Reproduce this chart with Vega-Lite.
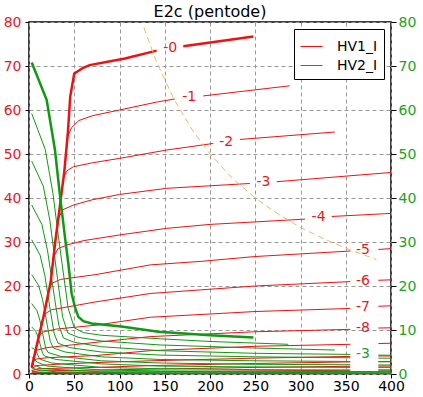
{
"$schema":"https://vega.github.io/schema/vega-lite/v6.json",
"width":362,"height":352,
"autosize":{"type":"none"},
"padding":{"left":29,"top":22,"right":32,"bottom":23},
"title":{"text":"E2c (pentode)","fontSize":16,"fontWeight":"normal","font":"DejaVu Sans","color":"black","offset":-5},
"config":{"font":"DejaVu Sans","view":{"stroke":"black","strokeWidth":1.5},
"axis":{"labelFont":"DejaVu Sans","labelFontSize":14,"title":null,"domain":false,"tickColor":"black","gridColor":"#999999","gridDash":[4,3],"gridOpacity":1,"gridWidth":1}},
"datasets":{
"curves":[
{"s":"HV1_I","g":0,"k":0,"v":3,"i":1.5},{"s":"HV1_I","g":0,"k":0,"v":8,"i":6},{"s":"HV1_I","g":0,"k":0,"v":16,"i":13},{"s":"HV1_I","g":0,"k":0,"v":24,"i":21},{"s":"HV1_I","g":0,"k":0,"v":29,"i":30},{"s":"HV1_I","g":0,"k":0,"v":34,"i":38},{"s":"HV1_I","g":0,"k":0,"v":39,"i":46},{"s":"HV1_I","g":0,"k":0,"v":43,"i":55},{"s":"HV1_I","g":0,"k":0,"v":45.5,"i":63},{"s":"HV1_I","g":0,"k":0,"v":50,"i":68.3},{"s":"HV1_I","g":0,"k":0,"v":60,"i":69.6},{"s":"HV1_I","g":0,"k":0,"v":67,"i":70.2},{"s":"HV1_I","g":0,"k":0,"v":106,"i":71.7},{"s":"HV1_I","g":0,"k":0,"v":141,"i":73.5},
{"s":"HV1_I","g":0,"k":1,"v":170.5,"i":74.5},{"s":"HV1_I","g":0,"k":1,"v":248,"i":76.7},
{"s":"HV1_I","g":-1,"k":0,"v":3,"i":1.5},{"s":"HV1_I","g":-1,"k":0,"v":8,"i":6},{"s":"HV1_I","g":-1,"k":0,"v":16,"i":13},{"s":"HV1_I","g":-1,"k":0,"v":24,"i":21},{"s":"HV1_I","g":-1,"k":0,"v":29,"i":30},{"s":"HV1_I","g":-1,"k":0,"v":34,"i":38},{"s":"HV1_I","g":-1,"k":0,"v":39,"i":46},{"s":"HV1_I","g":-1,"k":0,"v":43,"i":54},{"s":"HV1_I","g":-1,"k":0,"v":47,"i":56},{"s":"HV1_I","g":-1,"k":0,"v":55,"i":57.6},{"s":"HV1_I","g":-1,"k":0,"v":70,"i":58.7},{"s":"HV1_I","g":-1,"k":0,"v":100,"i":60},{"s":"HV1_I","g":-1,"k":0,"v":141,"i":61.8},{"s":"HV1_I","g":-1,"k":0,"v":161,"i":62.5},
{"s":"HV1_I","g":-1,"k":1,"v":192.6,"i":63.2},{"s":"HV1_I","g":-1,"k":1,"v":288,"i":65.5},
{"s":"HV1_I","g":-2,"k":0,"v":3,"i":1.5},{"s":"HV1_I","g":-2,"k":0,"v":8,"i":6},{"s":"HV1_I","g":-2,"k":0,"v":16,"i":13},{"s":"HV1_I","g":-2,"k":0,"v":24,"i":21},{"s":"HV1_I","g":-2,"k":0,"v":29,"i":30},{"s":"HV1_I","g":-2,"k":0,"v":34,"i":38},{"s":"HV1_I","g":-2,"k":0,"v":38,"i":44.5},{"s":"HV1_I","g":-2,"k":0,"v":42,"i":46.2},{"s":"HV1_I","g":-2,"k":0,"v":49,"i":47.1},{"s":"HV1_I","g":-2,"k":0,"v":70,"i":48},{"s":"HV1_I","g":-2,"k":0,"v":100,"i":49},{"s":"HV1_I","g":-2,"k":0,"v":152,"i":50.9},{"s":"HV1_I","g":-2,"k":0,"v":203.7,"i":52.4},
{"s":"HV1_I","g":-2,"k":1,"v":233,"i":53.3},{"s":"HV1_I","g":-2,"k":1,"v":338,"i":55},
{"s":"HV1_I","g":-3,"k":0,"v":3,"i":1.5},{"s":"HV1_I","g":-3,"k":0,"v":8,"i":6},{"s":"HV1_I","g":-3,"k":0,"v":16,"i":13},{"s":"HV1_I","g":-3,"k":0,"v":24,"i":21},{"s":"HV1_I","g":-3,"k":0,"v":29,"i":30},{"s":"HV1_I","g":-3,"k":0,"v":33,"i":35.5},{"s":"HV1_I","g":-3,"k":0,"v":37,"i":37.3},{"s":"HV1_I","g":-3,"k":0,"v":49,"i":38.4},{"s":"HV1_I","g":-3,"k":0,"v":70,"i":39.6},{"s":"HV1_I","g":-3,"k":0,"v":100,"i":40.8},{"s":"HV1_I","g":-3,"k":0,"v":152,"i":42.2},{"s":"HV1_I","g":-3,"k":0,"v":244,"i":43.3},
{"s":"HV1_I","g":-3,"k":1,"v":273.7,"i":43.7},{"s":"HV1_I","g":-3,"k":1,"v":400,"i":45.8},
{"s":"HV1_I","g":-4,"k":0,"v":3,"i":1.5},{"s":"HV1_I","g":-4,"k":0,"v":8,"i":6},{"s":"HV1_I","g":-4,"k":0,"v":16,"i":13},{"s":"HV1_I","g":-4,"k":0,"v":24,"i":21},{"s":"HV1_I","g":-4,"k":0,"v":27,"i":26.5},{"s":"HV1_I","g":-4,"k":0,"v":32,"i":28.5},{"s":"HV1_I","g":-4,"k":0,"v":41.6,"i":29.3},{"s":"HV1_I","g":-4,"k":0,"v":60,"i":30.3},{"s":"HV1_I","g":-4,"k":0,"v":100,"i":31.6},{"s":"HV1_I","g":-4,"k":0,"v":152,"i":33.1},{"s":"HV1_I","g":-4,"k":0,"v":200,"i":34},{"s":"HV1_I","g":-4,"k":0,"v":305,"i":35.2},
{"s":"HV1_I","g":-4,"k":1,"v":334.5,"i":35.8},{"s":"HV1_I","g":-4,"k":1,"v":400,"i":36.5},
{"s":"HV1_I","g":-5,"k":0,"v":3,"i":1.5},{"s":"HV1_I","g":-5,"k":0,"v":8,"i":6},{"s":"HV1_I","g":-5,"k":0,"v":16,"i":13},{"s":"HV1_I","g":-5,"k":0,"v":22,"i":19},{"s":"HV1_I","g":-5,"k":0,"v":25,"i":20.6},{"s":"HV1_I","g":-5,"k":0,"v":35,"i":21.5},{"s":"HV1_I","g":-5,"k":0,"v":74,"i":22.6},{"s":"HV1_I","g":-5,"k":0,"v":134,"i":24.8},{"s":"HV1_I","g":-5,"k":0,"v":190,"i":25.6},{"s":"HV1_I","g":-5,"k":0,"v":250,"i":26.7},{"s":"HV1_I","g":-5,"k":0,"v":355,"i":27.95},
{"s":"HV1_I","g":-5,"k":1,"v":386,"i":28.3},{"s":"HV1_I","g":-5,"k":1,"v":400,"i":28.5},
{"s":"HV1_I","g":-6,"k":0,"v":3,"i":1.5},{"s":"HV1_I","g":-6,"k":0,"v":8,"i":6},{"s":"HV1_I","g":-6,"k":0,"v":14,"i":11.5},{"s":"HV1_I","g":-6,"k":0,"v":17,"i":13.6},{"s":"HV1_I","g":-6,"k":0,"v":25,"i":14.6},{"s":"HV1_I","g":-6,"k":0,"v":74,"i":16.4},{"s":"HV1_I","g":-6,"k":0,"v":134,"i":18.3},{"s":"HV1_I","g":-6,"k":0,"v":250,"i":20},{"s":"HV1_I","g":-6,"k":0,"v":355,"i":21},
{"s":"HV1_I","g":-6,"k":1,"v":386,"i":21.3},{"s":"HV1_I","g":-6,"k":1,"v":400,"i":21.4},
{"s":"HV1_I","g":-7,"k":0,"v":3,"i":1.5},{"s":"HV1_I","g":-7,"k":0,"v":8,"i":6},{"s":"HV1_I","g":-7,"k":0,"v":11,"i":8.7},{"s":"HV1_I","g":-7,"k":0,"v":15,"i":9.5},{"s":"HV1_I","g":-7,"k":0,"v":30,"i":10.2},{"s":"HV1_I","g":-7,"k":0,"v":74,"i":11.1},{"s":"HV1_I","g":-7,"k":0,"v":134,"i":12.9},{"s":"HV1_I","g":-7,"k":0,"v":250,"i":14.2},{"s":"HV1_I","g":-7,"k":0,"v":355,"i":14.9},
{"s":"HV1_I","g":-7,"k":1,"v":386,"i":15.4},{"s":"HV1_I","g":-7,"k":1,"v":400,"i":15.5},
{"s":"HV1_I","g":-8,"k":0,"v":3,"i":1.5},{"s":"HV1_I","g":-8,"k":0,"v":6,"i":4.3},{"s":"HV1_I","g":-8,"k":0,"v":8,"i":5.4},{"s":"HV1_I","g":-8,"k":0,"v":20,"i":6},{"s":"HV1_I","g":-8,"k":0,"v":74,"i":7.2},{"s":"HV1_I","g":-8,"k":0,"v":134,"i":8.5},{"s":"HV1_I","g":-8,"k":0,"v":250,"i":9.6},{"s":"HV1_I","g":-8,"k":0,"v":355,"i":10.15},
{"s":"HV1_I","g":-8,"k":1,"v":386,"i":10.45},{"s":"HV1_I","g":-8,"k":1,"v":400,"i":10.5},
{"s":"HV1_I","g":-9,"k":0,"v":3,"i":1.5},{"s":"HV1_I","g":-9,"k":0,"v":5,"i":3},{"s":"HV1_I","g":-9,"k":0,"v":8,"i":3.4},{"s":"HV1_I","g":-9,"k":0,"v":20,"i":3.7},{"s":"HV1_I","g":-9,"k":0,"v":74,"i":4.2},{"s":"HV1_I","g":-9,"k":0,"v":134,"i":5.3},{"s":"HV1_I","g":-9,"k":0,"v":250,"i":6.3},{"s":"HV1_I","g":-9,"k":0,"v":355,"i":6.75},
{"s":"HV1_I","g":-9,"k":1,"v":386,"i":6.9},{"s":"HV1_I","g":-9,"k":1,"v":400,"i":7},
{"s":"HV1_I","g":-10,"k":0,"v":3,"i":1.2},{"s":"HV1_I","g":-10,"k":0,"v":8,"i":1.9},{"s":"HV1_I","g":-10,"k":0,"v":30,"i":2.2},{"s":"HV1_I","g":-10,"k":0,"v":74,"i":2.6},{"s":"HV1_I","g":-10,"k":0,"v":134,"i":3},{"s":"HV1_I","g":-10,"k":0,"v":250,"i":3.6},{"s":"HV1_I","g":-10,"k":0,"v":355,"i":4},
{"s":"HV1_I","g":-10,"k":1,"v":386,"i":4.1},{"s":"HV1_I","g":-10,"k":1,"v":400,"i":4.1},
{"s":"HV1_I","g":-11,"k":0,"v":3,"i":0.8},{"s":"HV1_I","g":-11,"k":0,"v":10,"i":1.2},{"s":"HV1_I","g":-11,"k":0,"v":74,"i":1.5},{"s":"HV1_I","g":-11,"k":0,"v":134,"i":1.9},{"s":"HV1_I","g":-11,"k":0,"v":250,"i":2.4},{"s":"HV1_I","g":-11,"k":0,"v":355,"i":2.75},
{"s":"HV1_I","g":-11,"k":1,"v":386,"i":2.8},{"s":"HV1_I","g":-11,"k":1,"v":400,"i":2.8},
{"s":"HV1_I","g":-12,"k":0,"v":3,"i":0.5},{"s":"HV1_I","g":-12,"k":0,"v":10,"i":0.7},{"s":"HV1_I","g":-12,"k":0,"v":74,"i":0.9},{"s":"HV1_I","g":-12,"k":0,"v":134,"i":1.1},{"s":"HV1_I","g":-12,"k":0,"v":250,"i":1.5},{"s":"HV1_I","g":-12,"k":0,"v":355,"i":1.75},
{"s":"HV1_I","g":-12,"k":1,"v":386,"i":1.8},{"s":"HV1_I","g":-12,"k":1,"v":400,"i":1.8},
{"s":"HV1_I","g":-13,"k":0,"v":3,"i":0.3},{"s":"HV1_I","g":-13,"k":0,"v":74,"i":0.4},{"s":"HV1_I","g":-13,"k":0,"v":250,"i":0.7},{"s":"HV1_I","g":-13,"k":0,"v":355,"i":0.85},
{"s":"HV1_I","g":-13,"k":1,"v":386,"i":0.9},{"s":"HV1_I","g":-13,"k":1,"v":400,"i":0.9},
{"s":"HV2_I","g":0,"k":0,"v":3,"i":70.8},{"s":"HV2_I","g":0,"k":0,"v":19.5,"i":62.3},{"s":"HV2_I","g":0,"k":0,"v":28.7,"i":50.9},{"s":"HV2_I","g":0,"k":0,"v":34,"i":41},{"s":"HV2_I","g":0,"k":0,"v":39.8,"i":31},{"s":"HV2_I","g":0,"k":0,"v":43.4,"i":25.2},{"s":"HV2_I","g":0,"k":0,"v":47.1,"i":18.3},{"s":"HV2_I","g":0,"k":0,"v":51,"i":15},{"s":"HV2_I","g":0,"k":0,"v":54.5,"i":13},{"s":"HV2_I","g":0,"k":0,"v":60,"i":12},{"s":"HV2_I","g":0,"k":0,"v":69.3,"i":11.5},{"s":"HV2_I","g":0,"k":0,"v":102,"i":10.8},{"s":"HV2_I","g":0,"k":0,"v":143,"i":9.6},{"s":"HV2_I","g":0,"k":0,"v":200,"i":8.8},{"s":"HV2_I","g":0,"k":0,"v":248,"i":8.3},
{"s":"HV2_I","g":-1,"k":0,"v":3,"i":59.2},{"s":"HV2_I","g":-1,"k":0,"v":18,"i":51},{"s":"HV2_I","g":-1,"k":0,"v":26.5,"i":41},{"s":"HV2_I","g":-1,"k":0,"v":32,"i":32},{"s":"HV2_I","g":-1,"k":0,"v":36.6,"i":25},{"s":"HV2_I","g":-1,"k":0,"v":43.2,"i":15},{"s":"HV2_I","g":-1,"k":0,"v":50,"i":10.5},{"s":"HV2_I","g":-1,"k":0,"v":60,"i":9.4},{"s":"HV2_I","g":-1,"k":0,"v":80,"i":8.8},{"s":"HV2_I","g":-1,"k":0,"v":145,"i":8},{"s":"HV2_I","g":-1,"k":0,"v":200,"i":7.4},{"s":"HV2_I","g":-1,"k":0,"v":286.5,"i":6.75},
{"s":"HV2_I","g":-2,"k":0,"v":3,"i":48.4},{"s":"HV2_I","g":-2,"k":0,"v":15.8,"i":42.7},{"s":"HV2_I","g":-2,"k":0,"v":23,"i":35},{"s":"HV2_I","g":-2,"k":0,"v":31.6,"i":21.5},{"s":"HV2_I","g":-2,"k":0,"v":37.2,"i":12.9},{"s":"HV2_I","g":-2,"k":0,"v":43,"i":9.3},{"s":"HV2_I","g":-2,"k":0,"v":55,"i":8.3},{"s":"HV2_I","g":-2,"k":0,"v":80,"i":7.5},{"s":"HV2_I","g":-2,"k":0,"v":145,"i":6.6},{"s":"HV2_I","g":-2,"k":0,"v":250,"i":5.9},{"s":"HV2_I","g":-2,"k":0,"v":338,"i":5.45},
{"s":"HV2_I","g":-3,"k":0,"v":3,"i":38.4},{"s":"HV2_I","g":-3,"k":0,"v":14.2,"i":34},{"s":"HV2_I","g":-3,"k":0,"v":20.5,"i":28},{"s":"HV2_I","g":-3,"k":0,"v":28,"i":17.6},{"s":"HV2_I","g":-3,"k":0,"v":33,"i":11},{"s":"HV2_I","g":-3,"k":0,"v":38,"i":8.2},{"s":"HV2_I","g":-3,"k":0,"v":50,"i":7.2},{"s":"HV2_I","g":-3,"k":0,"v":80,"i":6.2},{"s":"HV2_I","g":-3,"k":0,"v":145,"i":5.3},{"s":"HV2_I","g":-3,"k":0,"v":250,"i":4.7},{"s":"HV2_I","g":-3,"k":0,"v":355,"i":4.45},
{"s":"HV2_I","g":-3,"k":1,"v":386,"i":4.3},{"s":"HV2_I","g":-3,"k":1,"v":400,"i":4.25},
{"s":"HV2_I","g":-4,"k":0,"v":3,"i":30.5},{"s":"HV2_I","g":-4,"k":0,"v":12.3,"i":27},{"s":"HV2_I","g":-4,"k":0,"v":17.5,"i":22.4},{"s":"HV2_I","g":-4,"k":0,"v":23.7,"i":14.3},{"s":"HV2_I","g":-4,"k":0,"v":27.8,"i":9.2},{"s":"HV2_I","g":-4,"k":0,"v":32,"i":7},{"s":"HV2_I","g":-4,"k":0,"v":45,"i":6},{"s":"HV2_I","g":-4,"k":0,"v":80,"i":5},{"s":"HV2_I","g":-4,"k":0,"v":145,"i":4.3},{"s":"HV2_I","g":-4,"k":0,"v":250,"i":3.9},{"s":"HV2_I","g":-4,"k":0,"v":355,"i":3.7},
{"s":"HV2_I","g":-4,"k":1,"v":386,"i":3.6},{"s":"HV2_I","g":-4,"k":1,"v":400,"i":3.6},
{"s":"HV2_I","g":-5,"k":0,"v":3,"i":22.6},{"s":"HV2_I","g":-5,"k":0,"v":10.7,"i":20.1},{"s":"HV2_I","g":-5,"k":0,"v":15,"i":16.9},{"s":"HV2_I","g":-5,"k":0,"v":20.2,"i":11.1},{"s":"HV2_I","g":-5,"k":0,"v":23.5,"i":7.4},{"s":"HV2_I","g":-5,"k":0,"v":27,"i":5.9},{"s":"HV2_I","g":-5,"k":0,"v":40,"i":5},{"s":"HV2_I","g":-5,"k":0,"v":80,"i":3.9},{"s":"HV2_I","g":-5,"k":0,"v":145,"i":3.3},{"s":"HV2_I","g":-5,"k":0,"v":250,"i":3},{"s":"HV2_I","g":-5,"k":0,"v":355,"i":2.85},
{"s":"HV2_I","g":-5,"k":1,"v":386,"i":2.8},{"s":"HV2_I","g":-5,"k":1,"v":400,"i":2.8},
{"s":"HV2_I","g":-6,"k":0,"v":3,"i":16},{"s":"HV2_I","g":-6,"k":0,"v":8.8,"i":14.4},{"s":"HV2_I","g":-6,"k":0,"v":12,"i":12.2},{"s":"HV2_I","g":-6,"k":0,"v":15.9,"i":8.4},{"s":"HV2_I","g":-6,"k":0,"v":18.4,"i":5.9},{"s":"HV2_I","g":-6,"k":0,"v":21,"i":4.9},{"s":"HV2_I","g":-6,"k":0,"v":35,"i":4},{"s":"HV2_I","g":-6,"k":0,"v":80,"i":3},{"s":"HV2_I","g":-6,"k":0,"v":145,"i":2.5},{"s":"HV2_I","g":-6,"k":0,"v":250,"i":2.2},{"s":"HV2_I","g":-6,"k":0,"v":355,"i":2.1},
{"s":"HV2_I","g":-6,"k":1,"v":386,"i":2.05},{"s":"HV2_I","g":-6,"k":1,"v":400,"i":2.05},
{"s":"HV2_I","g":-7,"k":0,"v":3,"i":10.7},{"s":"HV2_I","g":-7,"k":0,"v":7.5,"i":9.7},{"s":"HV2_I","g":-7,"k":0,"v":10,"i":8.4},{"s":"HV2_I","g":-7,"k":0,"v":13,"i":6.2},{"s":"HV2_I","g":-7,"k":0,"v":15,"i":4.7},{"s":"HV2_I","g":-7,"k":0,"v":17,"i":4.1},{"s":"HV2_I","g":-7,"k":0,"v":30,"i":3.3},{"s":"HV2_I","g":-7,"k":0,"v":80,"i":2.3},{"s":"HV2_I","g":-7,"k":0,"v":145,"i":1.8},{"s":"HV2_I","g":-7,"k":0,"v":250,"i":1.6},{"s":"HV2_I","g":-7,"k":0,"v":355,"i":1.5},
{"s":"HV2_I","g":-7,"k":1,"v":386,"i":1.5},{"s":"HV2_I","g":-7,"k":1,"v":400,"i":1.5},
{"s":"HV2_I","g":-8,"k":0,"v":3,"i":6},{"s":"HV2_I","g":-8,"k":0,"v":6.2,"i":5.6},{"s":"HV2_I","g":-8,"k":0,"v":8,"i":5.1},{"s":"HV2_I","g":-8,"k":0,"v":10.2,"i":4.1},{"s":"HV2_I","g":-8,"k":0,"v":11.6,"i":3.5},{"s":"HV2_I","g":-8,"k":0,"v":13,"i":3.3},{"s":"HV2_I","g":-8,"k":0,"v":25,"i":2.5},{"s":"HV2_I","g":-8,"k":0,"v":80,"i":1.5},{"s":"HV2_I","g":-8,"k":0,"v":145,"i":1.2},{"s":"HV2_I","g":-8,"k":0,"v":250,"i":1},{"s":"HV2_I","g":-8,"k":0,"v":355,"i":0.9},
{"s":"HV2_I","g":-8,"k":1,"v":386,"i":0.9},{"s":"HV2_I","g":-8,"k":1,"v":400,"i":0.9},
{"s":"HV2_I","g":-9,"k":0,"v":3,"i":3.8},{"s":"HV2_I","g":-9,"k":0,"v":6,"i":3.3},{"s":"HV2_I","g":-9,"k":0,"v":9,"i":2.7},{"s":"HV2_I","g":-9,"k":0,"v":20,"i":1.8},{"s":"HV2_I","g":-9,"k":0,"v":80,"i":0.9},{"s":"HV2_I","g":-9,"k":0,"v":145,"i":0.7},{"s":"HV2_I","g":-9,"k":0,"v":250,"i":0.6},{"s":"HV2_I","g":-9,"k":0,"v":400,"i":0.55},
{"s":"HV2_I","g":-10,"k":0,"v":3,"i":2.5},{"s":"HV2_I","g":-10,"k":0,"v":6,"i":2},{"s":"HV2_I","g":-10,"k":0,"v":15,"i":1.2},{"s":"HV2_I","g":-10,"k":0,"v":80,"i":0.5},{"s":"HV2_I","g":-10,"k":0,"v":145,"i":0.4},{"s":"HV2_I","g":-10,"k":0,"v":400,"i":0.3},
{"s":"HV2_I","g":-11,"k":0,"v":3,"i":1.5},{"s":"HV2_I","g":-11,"k":0,"v":8,"i":1},{"s":"HV2_I","g":-11,"k":0,"v":30,"i":0.5},{"s":"HV2_I","g":-11,"k":0,"v":145,"i":0.2},{"s":"HV2_I","g":-11,"k":0,"v":400,"i":0.15},
{"s":"HV2_I","g":-12,"k":0,"v":3,"i":0.8},{"s":"HV2_I","g":-12,"k":0,"v":10,"i":0.4},{"s":"HV2_I","g":-12,"k":0,"v":50,"i":0.15},{"s":"HV2_I","g":-12,"k":0,"v":400,"i":0.1}
],
"load":[{"v":127,"i":78.7},{"v":140,"i":71.4},{"v":160,"i":62.5},{"v":180,"i":55.6},{"v":200,"i":50},{"v":225,"i":44.4},{"v":250,"i":40},{"v":275,"i":36.4},{"v":300,"i":33.3},{"v":325,"i":30.8},{"v":350,"i":28.6},{"v":384,"i":26}],
"redlabels":[{"t":"-0","v":156,"i":74.1},{"t":"-1","v":177,"i":62.9},{"t":"-2","v":218,"i":52.8},{"t":"-3","v":259,"i":43.6},{"t":"-4","v":320,"i":35.6},{"t":"-5","v":369,"i":28.2},{"t":"-6","v":369,"i":21.2},{"t":"-7","v":369,"i":15.2},{"t":"-8","v":369,"i":10.5}],
"greenlabels":[{"t":"-3","v":369,"i":4.6}]
},
"layer":[
{"data":{"name":"curves"},"transform":[{"filter":"datum.g != 0"}],
 "mark":{"type":"line","strokeWidth":1,"clip":true},
 "encoding":{
  "x":{"field":"v","type":"quantitative","scale":{"domain":[0,400],"nice":false},"axis":{"orient":"bottom","values":[0,50,100,150,200,250,300,350,400],"labelColor":"black","tickSize":4,"labelPadding":1,"grid":true,"labelFlush":false}},
  "y":{"field":"i","type":"quantitative","scale":{"domain":[0,80],"nice":false},"axis":{"orient":"left","values":[0,10,20,30,40,50,60,70,80],"labelColor":"#e31a1c","tickSize":4,"labelPadding":4,"grid":true,"labelFlush":false}},
  "color":{"field":"s","type":"nominal","scale":{"domain":["HV1_I","HV2_I"],"range":["#ee1111","#119911"]},
   "legend":{"orient":"top-right","offset":7,"title":null,"symbolType":"stroke","symbolSize":484,"symbolStrokeWidth":1,"labelFontSize":14,"labelFont":"DejaVu Sans","labelColor":"black","strokeColor":"black","fillColor":"white","padding":6,"rowPadding":0,"labelOffset":14,"cornerRadius":0}},
  "detail":[{"field":"g"},{"field":"k"}]
 }},
{"data":{"name":"curves"},"transform":[{"filter":"datum.g == 0"}],
 "mark":{"type":"line","strokeWidth":2.5,"clip":true},
 "encoding":{
  "x":{"field":"v","type":"quantitative"},
  "y":{"field":"i","type":"quantitative","axis":null},
  "color":{"field":"s","type":"nominal","legend":null},
  "detail":[{"field":"g"},{"field":"k"}]
 }},
{"data":{"name":"load"},
 "mark":{"type":"line","color":"#f2b560","strokeWidth":1,"strokeDash":[6,4]},
 "encoding":{"x":{"field":"v","type":"quantitative"},"y":{"field":"i","type":"quantitative","axis":null}}},
{"data":{"name":"redlabels"},
 "mark":{"type":"text","color":"#e31a1c","fontSize":14,"font":"DejaVu Sans","align":"center","baseline":"middle"},
 "encoding":{"x":{"field":"v","type":"quantitative"},"y":{"field":"i","type":"quantitative","axis":null},"text":{"field":"t"}}},
{"data":{"name":"greenlabels"},
 "mark":{"type":"text","color":"#22a022","fontSize":14,"font":"DejaVu Sans","align":"center","baseline":"middle"},
 "encoding":{"x":{"field":"v","type":"quantitative"},
  "y":{"field":"i","type":"quantitative","axis":{"orient":"right","values":[0,10,20,30,40,50,60,70,80],"labelColor":"#22a022","tickSize":5,"labelPadding":2,"grid":false,"labelFlush":false}},
  "text":{"field":"t"}}}
]
}
